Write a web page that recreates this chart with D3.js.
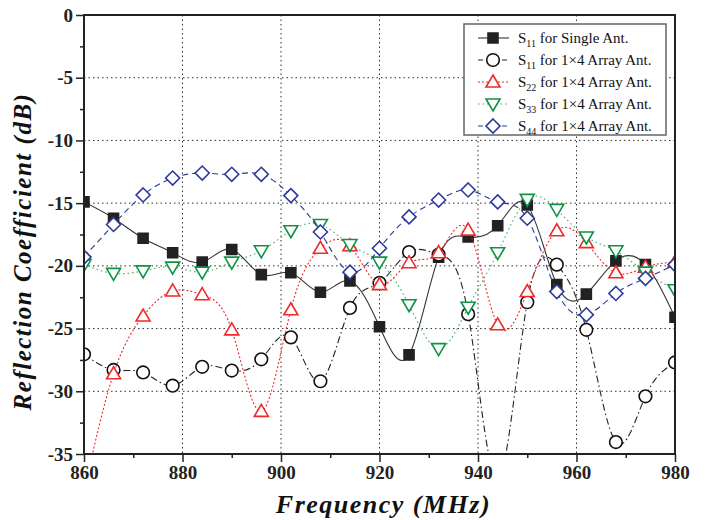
<!DOCTYPE html>
<html>
<head>
<meta charset="utf-8">
<script src="https://cdn.jsdelivr.net/npm/d3@7"></script>
<style>
body { margin: 0; background: #fff; }
svg { display: block; }
svg text { font-family: "Liberation Serif", "Times New Roman", serif; }
.tick text { font-weight: bold; font-size: 19px; fill: #222; }
.axis path, .axis line { stroke: #222; }
.legend text { font-size: 15px; fill: #111; }
</style>
</head>
<body>
<div id="chart"></div>
<script>
// frequency points (MHz)
var freqs = [860, 866, 872, 878, 884, 890, 896, 902, 908, 914, 920, 926, 932, 938, 944, 950, 956, 962, 968, 974, 980];

// reflection coefficients (dB)
var s11Single = [-14.9, -16.2, -17.8, -18.95, -19.7, -18.7, -20.7, -20.55, -22.1, -21.2, -24.85, -27.1, -19.3, -17.7, -16.8, -15.15, -21.5, -22.25, -19.6, -19.9, -24.1];
var s11Array  = [-27.05, -28.3, -28.5, -29.55, -28.05, -28.35, -27.45, -25.7, -29.2, -23.35, -21.35, -18.9, -19.1, -23.85, -37, -22.9, -19.9, -25.1, -34.05, -30.4, -27.7];
var s22       = [-38, -28.6, -24.0, -22.0, -22.3, -25.1, -31.6, -23.5, -18.6, -18.4, -21.5, -19.75, -18.95, -17.15, -24.7, -22.05, -17.2, -18.15, -20.55, -20.1, -19.7];
var s33       = [-19.9, -20.6, -20.4, -20.1, -20.5, -19.7, -18.8, -17.2, -16.7, -18.3, -19.7, -23.1, -26.6, -23.3, -18.95, -14.7, -15.5, -17.7, -18.8, -20.5, -21.9];
var s44       = [-19.3, -16.7, -14.35, -13.0, -12.6, -12.7, -12.7, -14.4, -17.3, -20.5, -18.6, -16.1, -14.75, -13.95, -14.9, -16.2, -22.05, -23.9, -22.2, -21.0, -19.9];

var xTicks = [860, 880, 900, 920, 940, 960, 980];
var yTicks = [0, -5, -10, -15, -20, -25, -30, -35];

var width = 705, height = 520;
var margin = {top: 15, right: 30, bottom: 66, left: 84};
var serif = "'Liberation Serif', 'Times New Roman', serif";

var svg = d3.select("#chart").append("svg")
  .attr("width", width)
  .attr("height", height);

var x = d3.scaleLinear().domain([860, 980]).range([margin.left, width - margin.right]);
var y = d3.scaleLinear().domain([-35, 0]).range([height - margin.bottom, margin.top]);

// grid lines
svg.append("g")
  .selectAll("line.vgrid")
  .data(xTicks.slice(1, -1))
  .enter().append("line")
  .attr("x1", d => x(d)).attr("x2", d => x(d))
  .attr("y1", y(0)).attr("y2", y(-35))
  .attr("stroke", "#333").attr("stroke-width", 1).attr("stroke-dasharray", "1.5,3");

svg.append("g")
  .selectAll("line.hgrid")
  .data(yTicks.slice(1, -1))
  .enter().append("line")
  .attr("x1", x(860)).attr("x2", x(980))
  .attr("y1", d => y(d)).attr("y2", d => y(d))
  .attr("stroke", "#333").attr("stroke-width", 1).attr("stroke-dasharray", "1.5,3");

// axes with minor ticks
var xAxis = d3.axisBottom(x).tickValues(xTicks).tickSize(8).tickPadding(4).tickFormat(d3.format("d"));
var xMinor = d3.axisBottom(x).tickValues([870, 890, 910, 930, 950, 970]).tickSize(4).tickFormat("");
var yAxis = d3.axisLeft(y).tickValues(yTicks).tickSize(8).tickPadding(3).tickFormat(d => d);
var yMinor = d3.axisLeft(y).tickValues([-2.5, -7.5, -12.5, -17.5, -22.5, -27.5, -32.5]).tickSize(4).tickFormat("");

function styleAxis(g) {
  g.select(".domain").remove();
  g.attr("font-family", serif);
  g.selectAll(".tick line").attr("stroke-width", 1.5);
}

svg.append("g").attr("class", "axis").attr("transform", `translate(0,${y(-35)})`).call(xAxis).call(styleAxis);
svg.append("g").attr("class", "axis").attr("transform", `translate(0,${y(-35)})`).call(xMinor).call(styleAxis);
svg.append("g").attr("class", "axis").attr("transform", `translate(${x(860)},0)`).call(yAxis).call(styleAxis);
svg.append("g").attr("class", "axis").attr("transform", `translate(${x(860)},0)`).call(yMinor).call(styleAxis);

// clip for curves that dip below the axis
svg.append("clipPath").attr("id", "plotclip")
  .append("rect")
  .attr("x", x(860)).attr("y", y(0))
  .attr("width", x(980) - x(860)).attr("height", y(-35) - y(0));

var series = [
  {name: "11", label: " for Single Ant.", values: s11Single, color: "#222", lineColor: "#333", dash: null, legendDash: null, shape: "square"},
  {name: "11", label: " for 1\u00d74 Array Ant.", values: s11Array, color: "#111", lineColor: "#222", dash: "7,3,1.5,3", legendDash: "5,3", shape: "circle"},
  {name: "22", label: " for 1\u00d74 Array Ant.", values: s22, color: "#ee2a2a", lineColor: "#ee2a2a", dash: "2,2", legendDash: "2,2", shape: "triangle"},
  {name: "33", label: " for 1\u00d74 Array Ant.", values: s33, color: "#0c9444", lineColor: "#3aaa6a", dash: "1.5,3", legendDash: "1.5,3", shape: "triangleDown"},
  {name: "44", label: " for 1\u00d74 Array Ant.", values: s44, color: "#2c3a9a", lineColor: "#2c3a9a", dash: "6,4", legendDash: "5,3", shape: "diamond"}
];

function markerPath(shape) {
  if (shape == "square") return "M-5,-5H5V5H-5Z";
  if (shape == "circle") return d3.symbol().type(d3.symbolCircle).size(125)();
  if (shape == "triangle") return "M0,-7L7,5L-7,5Z";
  if (shape == "triangleDown") return "M0,7L7,-5L-7,-5Z";
  return "M0,-7L7,0L0,7L-7,0Z";
}

var line = d3.line()
  .x(d => x(d[0]))
  .y(d => y(d[1]))
  .curve(d3.curveNatural);

var plot = svg.append("g").attr("clip-path", "url(#plotclip)");

series.forEach(function(s) {
  var pts = freqs.map((f, i) => [f, s.values[i]]);
  plot.append("path")
    .datum(pts)
    .attr("fill", "none")
    .attr("stroke", s.lineColor)
    .attr("stroke-width", 1.1)
    .attr("stroke-dasharray", s.dash)
    .attr("d", line);

  plot.selectAll(null)
    .data(pts)
    .enter().append("path")
    .attr("transform", d => `translate(${x(d[0])},${y(d[1])})`)
    .attr("d", markerPath(s.shape))
    .attr("fill", s.shape == "square" ? s.color : "#fff")
    .attr("stroke", s.color)
    .attr("stroke-width", 1.6);
});

// frame
svg.append("rect")
  .attr("x", x(860)).attr("y", y(0))
  .attr("width", x(980) - x(860)).attr("height", y(-35) - y(0))
  .attr("fill", "none").attr("stroke", "#222").attr("stroke-width", 2);

// legend
var legend = svg.append("g").attr("class", "legend");
legend.append("rect")
  .attr("x", 464).attr("y", 24).attr("width", 202).attr("height", 111)
  .attr("fill", "#fff").attr("stroke", "#666").attr("stroke-width", 1.5);

series.forEach(function(s, i) {
  var ly = 38 + i * 22;
  legend.append("line")
    .attr("x1", 478).attr("x2", 509).attr("y1", ly).attr("y2", ly)
    .attr("stroke", s.lineColor).attr("stroke-width", 1.1)
    .attr("stroke-dasharray", s.legendDash);
  legend.append("path")
    .attr("transform", `translate(493,${ly})`)
    .attr("d", markerPath(s.shape))
    .attr("fill", s.shape == "square" ? s.color : "#fff")
    .attr("stroke", s.color).attr("stroke-width", 1.6);
  var t = legend.append("text").attr("x", 518).attr("y", ly + 5).attr("font-family", serif);
  t.append("tspan").text("S");
  t.append("tspan").attr("font-size", "10px").attr("dy", 4).text(s.name);
  t.append("tspan").attr("dy", -4).text(s.label);
});

// axis titles
svg.append("text")
  .attr("x", (x(860) + x(980)) / 2 + 4)
  .attr("y", 513)
  .attr("text-anchor", "middle")
  .attr("font-family", serif)
  .attr("font-weight", "bold")
  .attr("font-style", "italic")
  .attr("font-size", "26px")
  .attr("letter-spacing", "1.5px")
  .attr("fill", "#111")
  .text("Frequency (MHz)");

svg.append("text")
  .attr("transform", `translate(31,${(y(0) + y(-35)) / 2 + 17}) rotate(-90)`)
  .attr("text-anchor", "middle")
  .attr("font-family", serif)
  .attr("font-weight", "bold")
  .attr("font-style", "italic")
  .attr("font-size", "25px")
  .attr("letter-spacing", "1.5px")
  .attr("fill", "#111")
  .text("Reflection Coefficient (dB)");
</script>
</body>
</html>
